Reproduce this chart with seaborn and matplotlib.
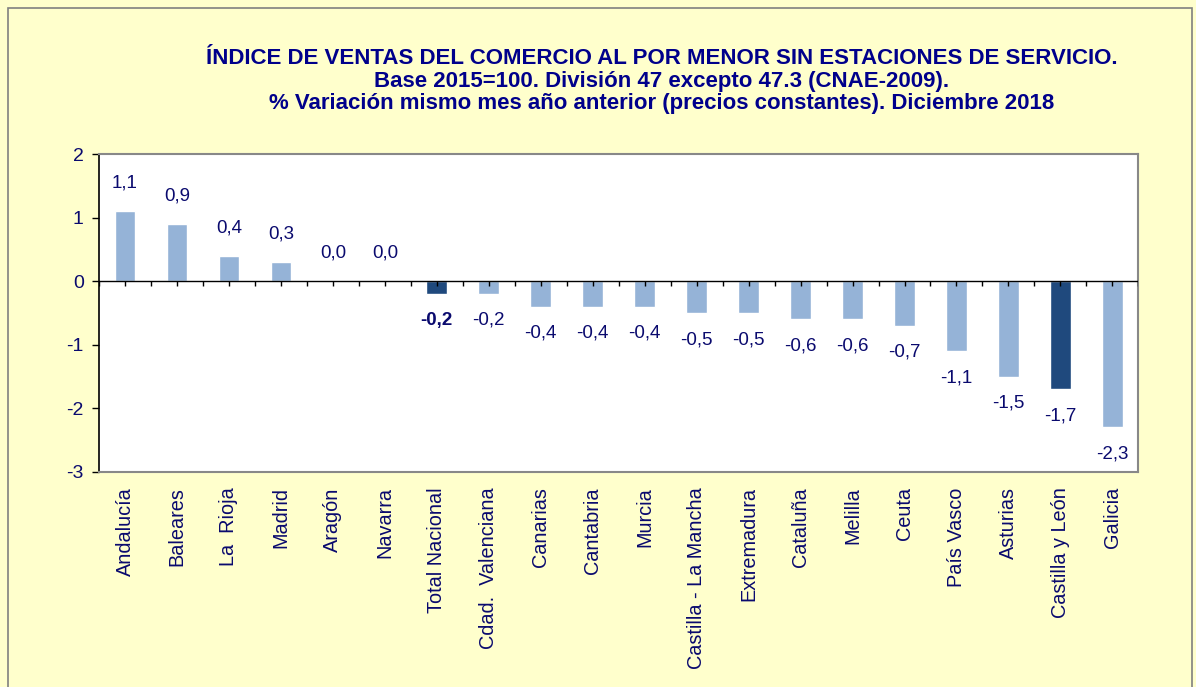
import numpy as np
import pandas as pd
import matplotlib
matplotlib.use("Agg")
import matplotlib.pyplot as plt
from matplotlib.patches import Rectangle
import seaborn as sns

# ── DATA ──────────────────────────────────────────────────────────────────────
regiones = ["Andalucía", "Baleares", "La  Rioja", "Madrid", "Aragón", "Navarra",
            "Total Nacional", "Cdad.  Valenciana", "Canarias", "Cantabria", "Murcia",
            "Castilla - La Mancha", "Extremadura", "Cataluña", "Melilla", "Ceuta",
            "País Vasco", "Asturias", "Castilla y León", "Galicia"]
variacion = [1.1, 0.9, 0.4, 0.3, 0.0, 0.0, -0.2, -0.2, -0.4, -0.4, -0.4,
             -0.5, -0.5, -0.6, -0.6, -0.7, -1.1, -1.5, -1.7, -2.3]
destacadas = ["Total Nacional", "Castilla y León"]
y_ticks = [2, 1, 0, -1, -2, -3]

TITULO = ("ÍNDICE DE VENTAS DEL COMERCIO AL POR MENOR SIN ESTACIONES DE SERVICIO.\n"
          "Base 2015=100. División 47 excepto 47.3 (CNAE-2009).\n"
          "% Variación mismo mes año anterior (precios constantes). Diciembre 2018")

# ── STYLE ─────────────────────────────────────────────────────────────────────
BG     = "#FFFFCC"
CLARO  = "#95B3D7"
OSCURO = "#1F497D"
NAVY   = "#0A0A6E"

sns.set_style("white")
plt.rcParams["font.family"] = ["Liberation Sans", "DejaVu Sans"]

df = pd.DataFrame({"region": regiones, "valor": variacion})
colores = {r: (OSCURO if r in destacadas else CLARO) for r in regiones}

fig = plt.figure(figsize=(11.96, 6.87), dpi=100, facecolor=BG)
ax = fig.add_axes([0.0828, 0.313, 0.869, 0.4628])
ax.set_facecolor("white")

sns.barplot(data=df, x="region", y="valor", hue="region", palette=colores,
            width=0.4, legend=False, ax=ax, saturation=1)

# etiquetas de valor
for i, (r, v) in enumerate(zip(regiones, variacion)):
    txt = f"{v:.1f}".replace(".", ",")
    bold = "bold" if r == "Total Nacional" else "normal"
    if v >= 0:
        ax.annotate(txt, (i, v), xytext=(0, 14), textcoords="offset points",
                    ha="center", va="bottom", fontsize=13.5, color=NAVY, fontweight=bold)
    else:
        ax.annotate(txt, (i, v), xytext=(0, -13), textcoords="offset points",
                    ha="center", va="top", fontsize=13.5, color=NAVY, fontweight=bold)

n = len(regiones)
ax.set_xlim(-0.5, n - 0.5)
ax.set_ylim(-3, 2)
ax.set_yticks(y_ticks)
ax.set_yticklabels([str(t) for t in y_ticks], fontsize=14, color=NAVY)
ax.tick_params(axis="y", direction="out", length=5, width=1, color="black", left=True, pad=6)
ax.tick_params(axis="x", length=0, pad=11)
ax.set_xticks(range(n))
ax.set_xticklabels(regiones, rotation=90, fontsize=14.3, color=NAVY, ha="center", va="top")
ax.set_xlabel("")
ax.set_ylabel("")

# línea de cero con marcas
ax.axhline(0, color="black", lw=1, zorder=3)
marcas = np.arange(-0.5, n, 0.5)
ax.vlines(marcas, -0.07, 0, color="black", lw=1, zorder=3)

for s in ["top", "right", "bottom"]:
    ax.spines[s].set_color("#888888")
    ax.spines[s].set_linewidth(1.5)
ax.spines["left"].set_color("black")
ax.spines["left"].set_linewidth(1.2)

fig.text(0.553, 0.882, TITULO, ha="center", va="center", fontsize=16,
         fontweight="bold", color="#00008B", linespacing=1.08)

# marco exterior
fig.patches.append(Rectangle((0.007, -0.01), 0.99, 0.998, transform=fig.transFigure,
                             fill=False, edgecolor="#808080", lw=1.2))

fig.savefig("out.png", dpi=100, facecolor=BG)
